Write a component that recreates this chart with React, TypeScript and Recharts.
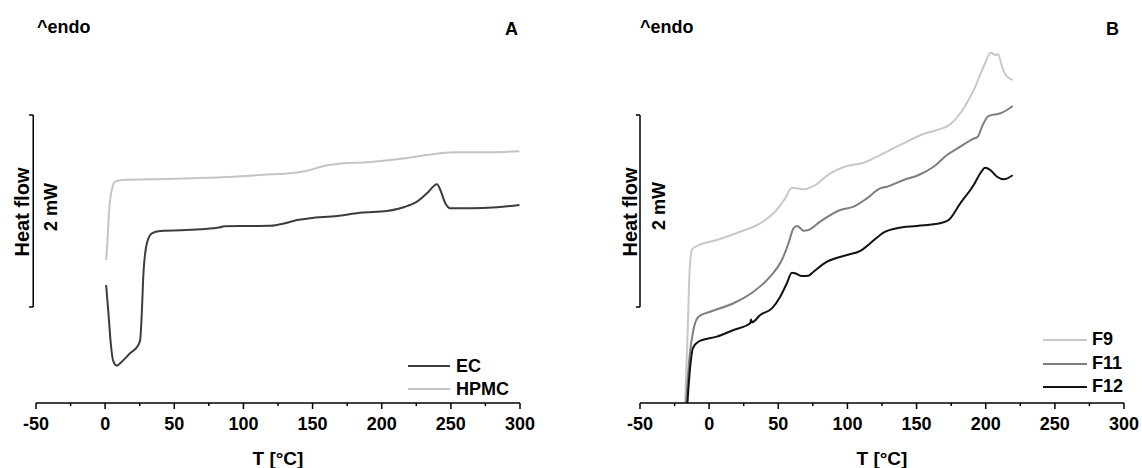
import React from 'react';
import { LineChart, Line, XAxis, YAxis, Legend, ReferenceLine } from 'recharts';

const FONT = '"Liberation Sans", Arial, Helvetica, sans-serif';

// x axis ticks (°C): every 25, labels on multiples of 50
const X_TICKS = [-50, -25, 0, 25, 50, 75, 100, 125, 150, 175, 200, 225, 250, 275, 300];

// Panel A — heat flow in mW above the baseline
const EC_T = [0.7, 2.4, 4.3, 6, 8.5, 12, 18, 24, 25.3, 26.5, 27.7, 30.2, 33.8, 39.8, 68.7, 83.2, 86, 107, 119.4, 130, 138.7, 148, 167.7, 184.5, 203.8, 215.9, 225.5, 232.7, 240, 242.4, 246, 249.6, 264, 283.4, 299.6];
const EC_HF = [1.229, 0.934, 0.586, 0.43, 0.389, 0.43, 0.518, 0.604, 0.656, 0.934, 1.351, 1.664, 1.768, 1.792, 1.809, 1.83, 1.842, 1.844, 1.846, 1.872, 1.906, 1.924, 1.948, 1.982, 2.0, 2.039, 2.097, 2.184, 2.278, 2.219, 2.08, 2.028, 2.028, 2.039, 2.063];

const HPMC_T = [0.7, 1.7, 3.1, 4.8, 7.2, 12, 44.6, 92.8, 119.4, 133.9, 146, 158, 167.7, 191.8, 211, 228, 242.4, 254.5, 276, 299.6];
const HPMC_HF = [1.49, 1.698, 2.045, 2.219, 2.305, 2.323, 2.333, 2.357, 2.382, 2.393, 2.42, 2.469, 2.49, 2.51, 2.539, 2.573, 2.601, 2.611, 2.611, 2.622];

// Panel B
const F9_T = [-17.4, -15.7, -14.2, -12.5, -8.9, 5.5, 22.4, 36.9, 46.5, 55, 59.8, 63.5, 68.2, 75.5, 87.6, 99.6, 111.7, 123.7, 138.2, 155, 164.8, 174.4, 181.6, 191.3, 198.5, 203.8, 207, 208.9, 211.8, 215.4, 219.5];
const F9_HF = [0, 0.656, 1.351, 1.594, 1.635, 1.698, 1.784, 1.872, 1.976, 2.132, 2.243, 2.236, 2.226, 2.26, 2.393, 2.469, 2.503, 2.583, 2.688, 2.802, 2.844, 2.903, 3.018, 3.26, 3.503, 3.649, 3.625, 3.635, 3.503, 3.399, 3.365];

const F11_T = [-16.6, -14.2, -11.4, -7.7, 0.7, 17.6, 32, 44.1, 52.6, 57.4, 61, 63.5, 65.3, 68.2, 71.8, 80.3, 94.8, 104.4, 114.1, 123.7, 128.6, 140.6, 151.5, 162.3, 172, 181.6, 190.1, 194.2, 197.3, 202.1, 210.6, 215.4, 219.5];
const F11_HF = [0, 0.482, 0.76, 0.899, 0.951, 1.039, 1.159, 1.316, 1.49, 1.664, 1.82, 1.844, 1.83, 1.795, 1.802, 1.889, 2.01, 2.045, 2.132, 2.236, 2.253, 2.323, 2.375, 2.461, 2.583, 2.67, 2.747, 2.774, 2.878, 2.99, 3.018, 3.052, 3.094];

const F12_T = [-15.7, -13.7, -11.8, -7.7, 5.6, 17.6, 29.7, 30.3, 31, 36.9, 45.4, 51.4, 56.2, 59.8, 62.2, 67.1, 71.8, 75.5, 85.2, 99.6, 109.3, 116.5, 123.7, 127.4, 135.8, 150.3, 167.1, 173.2, 181.6, 191.3, 196.1, 199.7, 203.3, 208.2, 213, 219.5];
const F12_HF = [0, 0.378, 0.57, 0.639, 0.691, 0.76, 0.83, 0.87, 0.84, 0.917, 0.986, 1.107, 1.247, 1.357, 1.351, 1.323, 1.326, 1.368, 1.472, 1.542, 1.585, 1.664, 1.75, 1.784, 1.82, 1.844, 1.872, 1.906, 2.08, 2.271, 2.393, 2.451, 2.427, 2.357, 2.33, 2.372];

const toPoints = (t: number[], v: number[]) => t.map((T, i) => ({ T, hf: v[i] }));

type Series = { name: string; color: string; data: { T: number; hf: number }[] };

const SERIES_A: Series[] = [
  { name: 'EC', color: '#3c3c3c', data: toPoints(EC_T, EC_HF) },
  { name: 'HPMC', color: '#c4c4c4', data: toPoints(HPMC_T, HPMC_HF) },
];
const SERIES_B: Series[] = [
  { name: 'F9', color: '#c8c8c8', data: toPoints(F9_T, F9_HF) },
  { name: 'F11', color: '#7e7e7e', data: toPoints(F11_T, F11_HF) },
  { name: 'F12', color: '#111111', data: toPoints(F12_T, F12_HF) },
];

const AxisTick = (props: any) => {
  const { x, y, payload } = props;
  const v = payload.value;
  const major = v % 50 === 0;
  return (
    <g>
      <line x1={x} x2={x} y1={y} y2={y + (major ? 6 : 3)} stroke="#000" strokeWidth={1.5} />
      {major && (
        <text x={x} y={y + 27} textAnchor="middle" fontFamily={FONT} fontWeight="bold" fontSize={18} fill="#000">
          {v}
        </text>
      )}
    </g>
  );
};

function Panel(props: {
  left: number;
  margin: { top: number; right: number; bottom: number; left: number };
  series: Series[];
  bracketX: number;
  legendLeft: number;
  legendTop: number;
  legendLine: number;
  legendGap: number;
  rowH: number;
}) {
  const { left, margin, series, bracketX, legendLeft, legendTop, legendLine, legendGap, rowH } = props;
  const renderLegend = () => (
    <div style={{ display: 'flex', flexDirection: 'column' }}>
      {series.map((s) => (
        <div key={s.name} style={{ display: 'flex', alignItems: 'center', height: rowH }}>
          <div style={{ width: legendLine, height: 2, background: s.color, marginRight: legendGap }} />
          <span style={{ fontFamily: FONT, fontWeight: 'bold', fontSize: 18, lineHeight: rowH + 'px', color: '#000' }}>{s.name}</span>
        </div>
      ))}
    </div>
  );
  return (
    <div style={{ position: 'absolute', left, top: 0, width: 571, height: 468 }}>
      <LineChart width={571} height={468} margin={margin} style={{ fontFamily: FONT }}>
        <XAxis
          type="number"
          dataKey="T"
          domain={[-50, 300]}
          ticks={X_TICKS}
          interval={0}
          allowDataOverflow
          tick={<AxisTick />}
          tickLine={false}
          tickSize={0}
          tickMargin={0}
          axisLine={{ stroke: '#000', strokeWidth: 1.5 }}
          height={65}
          label={{ value: 'T [°C]', position: 'insideBottom', offset: 3, style: { fill: '#000', fontSize: 19, fontWeight: 'bold', fontFamily: FONT } }}
        />
        <YAxis type="number" domain={[0, 4]} hide />
        {series.map((s) => (
          <Line
            key={s.name}
            data={s.data}
            dataKey="hf"
            name={s.name}
            stroke={s.color}
            strokeWidth={2}
            dot={false}
            activeDot={false}
            type="monotone"
            isAnimationActive={false}
          />
        ))}
        <ReferenceLine segment={[{ x: bracketX, y: 1 }, { x: bracketX, y: 3 }]} stroke="#000" strokeWidth={1.5} ifOverflow="visible" />
        <ReferenceLine segment={[{ x: bracketX - 3, y: 3 }, { x: bracketX, y: 3 }]} stroke="#000" strokeWidth={1.5} ifOverflow="visible" />
        <ReferenceLine segment={[{ x: bracketX - 3, y: 1 }, { x: bracketX, y: 1 }]} stroke="#000" strokeWidth={1.5} ifOverflow="visible" />
        <Legend
          layout="vertical"
          align="center"
          verticalAlign="middle"
          content={renderLegend}
          wrapperStyle={{ left: legendLeft, top: legendTop, width: 160, height: 'auto', bottom: 'auto', right: 'auto' }}
        />
      </LineChart>
    </div>
  );
}

export default function App() {
  const txt = { fontFamily: FONT, fontWeight: 'bold' as const, fill: '#000' };
  return (
    <div style={{ position: 'absolute', left: 0, top: 0, width: 1142, height: 468, background: '#fff', overflow: 'hidden' }}>
      <Panel
        left={0}
        margin={{ top: 19, right: 51, bottom: 0, left: 36 }}
        series={SERIES_A}
        bracketX={-52}
        legendLeft={408}
        legendTop={354.5}
        legendLine={42}
        legendGap={6}
        rowH={23}
      />
      <Panel
        left={571}
        margin={{ top: 19, right: 18, bottom: 0, left: 69 }}
        series={SERIES_B}
        bracketX={-50}
        legendLeft={472}
        legendTop={328.3}
        legendLine={44}
        legendGap={5}
        rowH={23.5}
      />
      <svg width={1142} height={468} style={{ position: 'absolute', left: 0, top: 0, pointerEvents: 'none' }}>
        <text x={37} y={33} fontSize={18} {...txt}>^endo</text>
        <text x={518} y={35} fontSize={18} textAnchor="end" {...txt}>A</text>
        <text x={640} y={33} fontSize={18} {...txt}>^endo</text>
        <text x={1119} y={35} fontSize={18} textAnchor="end" {...txt}>B</text>
        <text transform="translate(29,212) rotate(-90)" textAnchor="middle" fontSize={20} {...txt}>Heat flow</text>
        <text transform="translate(56.5,207) rotate(-90)" textAnchor="middle" fontSize={18} {...txt}>2 mW</text>
        <text transform="translate(637,212) rotate(-90)" textAnchor="middle" fontSize={20} {...txt}>Heat flow</text>
        <text transform="translate(665,206) rotate(-90)" textAnchor="middle" fontSize={18} {...txt}>2 mW</text>
      </svg>
    </div>
  );
}
